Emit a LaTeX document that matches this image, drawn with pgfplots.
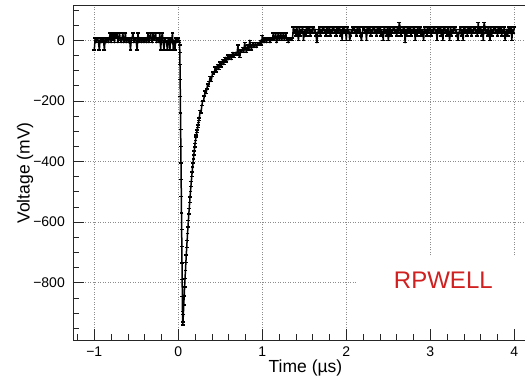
\documentclass[border=0pt]{standalone}
\usepackage{fontspec}
\setmainfont{Liberation Sans}
\usepackage{pgfplots}
\pgfplotsset{compat=1.18}
\definecolor{rootred}{RGB}{208,32,32}
\begin{document}
\begin{tikzpicture}[font=\fontsize{14bp}{16bp}\selectfont]
\begin{axis}[
  scale only axis, width=452.5bp, height=335.2bp,
  xmin=-1.2536, xmax=4.133, ymin=-990.8, ymax=115.5,
  tick pos=left, tick align=inside,
  xtick={-1,0,1,2,3,4}, xticklabels={−1,0,1,2,3,4},
  ytick={-800,-600,-400,-200,0}, yticklabels={−800,−600,−400,−200,0},
  minor xtick={-1.2,-0.8,-0.6,-0.4,-0.2,0.2,0.4,0.6,0.8,1.2,1.4,1.6,1.8,2.2,2.4,2.6,2.8,3.2,3.4,3.6,3.8},
  minor ytick={-950,-900,-850,-750,-700,-650,-550,-500,-450,-350,-300,-250,-150,-100,-50,50,100},
  major tick length=11bp, minor tick length=6bp,
  grid=major,
  major grid style={black!45, line width=0.5bp, dash pattern=on 1bp off 1.5bp},
  axis line style={black!85, line width=0.8bp},
  every tick/.style={black!85, line width=0.6bp},
  xticklabel style={inner sep=0pt, anchor=north, yshift=-6.5bp},
  yticklabel style={inner sep=0pt, anchor=east, xshift=-8bp},
  xlabel={Time (µs)}, ylabel={Voltage (mV)},
  xlabel style={at={(axis description cs:0.5138,0)}, anchor=base, yshift=-32.5bp, inner sep=0pt, font=\fontsize{17.5bp}{20bp}\selectfont},
  ylabel style={at={(axis description cs:-0.1061,0.5)}, anchor=center, inner sep=0pt, font=\fontsize{17.5bp}{20bp}\selectfont},
]
\addplot[black, line width=1.5bp, line join=round, mark=-, mark size=1.9bp, mark options={line width=1.5bp, solid}] coordinates {
(-1.00,-32)(-0.99,8)(-0.98,-8)(-0.97,0)(-0.96,8)(-0.95,-8)(-0.94,-32)(-0.93,8)(-0.92,0)(-0.91,-8)(-0.90,8)(-0.89,0)
(-0.88,-32)(-0.87,8)(-0.86,-8)(-0.85,0)(-0.84,8)(-0.83,-8)(-0.82,8)(-0.81,24)(-0.80,-8)(-0.79,24)(-0.78,0)(-0.77,24)
(-0.76,-8)(-0.75,24)(-0.74,8)(-0.73,24)(-0.72,-8)(-0.71,8)(-0.70,24)(-0.69,0)(-0.68,-8)(-0.67,8)(-0.66,24)(-0.65,-8)
(-0.64,0)(-0.63,24)(-0.62,-8)(-0.61,8)(-0.60,0)(-0.59,-8)(-0.58,8)(-0.57,-32)(-0.56,0)(-0.55,8)(-0.54,24)(-0.53,-8)
(-0.52,0)(-0.51,8)(-0.50,-8)(-0.49,-32)(-0.48,24)(-0.47,-8)(-0.46,0)(-0.45,8)(-0.44,-8)(-0.43,0)(-0.42,8)(-0.41,-8)
(-0.40,0)(-0.39,8)(-0.38,-8)(-0.37,0)(-0.36,24)(-0.35,-8)(-0.34,8)(-0.33,24)(-0.32,0)(-0.31,-8)(-0.30,24)(-0.29,0)
(-0.28,8)(-0.27,24)(-0.26,-8)(-0.25,0)(-0.24,8)(-0.23,-8)(-0.22,24)(-0.21,-32)(-0.20,8)(-0.19,24)(-0.18,-8)(-0.17,-32)
(-0.16,8)(-0.15,0)(-0.14,-8)(-0.13,-32)(-0.12,8)(-0.11,0)(-0.10,-32)(-0.09,8)(-0.08,-8)(-0.07,24)(-0.06,-32)(-0.05,0)
(-0.04,-32)(-0.03,8)(-0.02,-8)(-0.01,0)(0.00,8)(0.01,-8)
(0.012,-8)(0.014,0)(0.016,-16)(0.018,-40)(0.020,-80)(0.022,-130)(0.024,-185)(0.026,-240)(0.028,-295)(0.030,-350)
(0.032,-405)(0.034,-460)(0.036,-515)(0.038,-570)(0.040,-625)(0.042,-680)(0.044,-735)(0.046,-790)(0.048,-845)(0.050,-895)
(0.052,-930)(0.054,-940)(0.056,-932)(0.060,-905)(0.065,-874)(0.070,-844)(0.075,-815)(0.080,-787)(0.085,-760)(0.090,-734)
(0.095,-708)(0.100,-684)(0.105,-661)(0.110,-638)(0.115,-616)(0.120,-595)(0.125,-574)(0.130,-555)(0.135,-536)(0.140,-517)
(0.145,-499)(0.150,-482)(0.155,-466)(0.160,-450)(0.165,-434)(0.170,-419)(0.175,-405)(0.180,-391)(0.185,-378)(0.190,-365)
(0.195,-352)(0.200,-340)(0.205,-330)(0.210,-320)(0.215,-312)(0.220,-304)(0.225,-296)(0.230,-288)(0.235,-280)(0.240,-272)(0.245,-264)
(0.25,-256)(0.26,-232)(0.27,-240)(0.28,-216)(0.29,-200)(0.30,-200)(0.31,-184)(0.32,-168)(0.33,-176)(0.34,-160)
(0.35,-144)(0.36,-152)(0.37,-136)(0.38,-120)(0.39,-136)(0.40,-120)(0.41,-104)(0.42,-112)(0.43,-104)(0.44,-88)
(0.45,-104)(0.46,-88)(0.47,-80)(0.48,-96)(0.49,-80)(0.50,-72)(0.51,-88)(0.52,-72)(0.53,-64)(0.54,-80)
(0.55,-64)(0.56,-56)(0.57,-72)(0.58,-64)(0.59,-48)(0.60,-64)(0.61,-56)(0.62,-48)(0.63,-64)(0.64,-48)
(0.65,-40)(0.66,-56)(0.67,-48)(0.68,-40)(0.69,-48)(0.70,-40)(0.71,-16)(0.72,-48)(0.73,-56)(0.74,-32)
(0.75,-40)(0.76,-32)(0.77,-24)(0.78,-40)(0.79,-8)(0.80,-24)(0.81,-40)(0.82,-24)(0.83,-16)(0.84,-32)
(0.85,0)(0.86,-16)(0.87,-32)(0.88,-16)(0.89,-8)(0.90,-24)(0.91,-16)(0.92,-8)(0.93,-24)(0.94,-16)
(0.95,-8)(0.96,-16)(0.97,-8)(0.98,0)(0.99,-16)(1.00,16)
(1.01,0)(1.02,-8)(1.03,8)(1.04,0)(1.05,-8)(1.06,8)(1.07,0)(1.08,8)(1.09,-8)(1.10,0)(1.11,8)(1.12,0)
(1.13,24)(1.14,0)(1.15,8)(1.16,24)(1.17,-8)(1.18,8)(1.19,24)(1.20,0)(1.21,8)(1.22,24)(1.23,0)(1.24,8)
(1.25,24)(1.26,0)(1.27,8)(1.28,24)(1.29,0)(1.30,8)(1.31,-8)(1.32,8)(1.33,0)(1.34,8)(1.35,0)(1.36,8)
(1.37,44)(1.38,24)(1.39,36)(1.40,14)(1.41,44)(1.42,24)(1.43,0)(1.44,44)(1.45,14)(1.46,36)(1.47,24)(1.48,44)
(1.49,0)(1.50,24)(1.51,36)(1.52,14)(1.53,44)(1.54,24)(1.55,36)(1.56,44)(1.57,14)(1.58,36)(1.59,24)(1.60,44)
(1.61,44)(1.62,24)(1.63,36)(1.64,14)(1.65,-8)(1.66,24)(1.67,36)(1.68,44)(1.69,14)(1.70,36)(1.71,24)(1.72,44)
(1.73,44)(1.74,24)(1.75,36)(1.76,14)(1.77,44)(1.78,24)(1.79,36)(1.80,44)(1.81,14)(1.82,36)(1.83,24)(1.84,44)
(1.85,44)(1.86,24)(1.87,36)(1.88,14)(1.89,44)(1.90,24)(1.91,36)(1.92,44)(1.93,14)(1.94,36)(1.95,0)(1.96,44)
(1.97,44)(1.98,24)(1.99,36)(2.00,0)(2.01,44)(2.02,24)(2.03,36)(2.04,0)(2.05,14)(2.06,36)(2.07,24)(2.08,44)
(2.09,44)(2.10,24)(2.11,36)(2.12,14)(2.13,44)(2.14,24)(2.15,36)(2.16,44)(2.17,14)(2.18,0)(2.19,24)(2.20,44)
(2.21,44)(2.22,24)(2.23,36)(2.24,0)(2.25,44)(2.26,24)(2.27,36)(2.28,44)(2.29,14)(2.30,36)(2.31,24)(2.32,44)
(2.33,44)(2.34,24)(2.35,36)(2.36,14)(2.37,44)(2.38,24)(2.39,36)(2.40,44)(2.41,14)(2.42,36)(2.43,24)(2.44,0)
(2.45,44)(2.46,24)(2.47,36)(2.48,14)(2.49,44)(2.50,0)(2.51,36)(2.52,44)(2.53,14)(2.54,36)(2.55,24)(2.56,44)
(2.57,44)(2.58,24)(2.59,36)(2.60,14)(2.61,44)(2.62,24)(2.63,58)(2.64,44)(2.65,14)(2.66,36)(2.67,24)(2.68,44)
(2.69,44)(2.70,-8)(2.71,36)(2.72,14)(2.73,44)(2.74,24)(2.75,36)(2.76,44)(2.77,14)(2.78,36)(2.79,24)(2.80,44)
(2.81,44)(2.82,0)(2.83,36)(2.84,14)(2.85,44)(2.86,24)(2.87,36)(2.88,44)(2.89,14)(2.90,36)(2.91,24)(2.92,0)
(2.93,44)(2.94,24)(2.95,36)(2.96,14)(2.97,44)(2.98,24)(2.99,36)(3.00,44)(3.01,14)(3.02,36)(3.03,24)(3.04,44)
(3.05,44)(3.06,24)(3.07,36)(3.08,0)(3.09,44)(3.10,24)(3.11,36)(3.12,44)(3.13,14)(3.14,36)(3.15,0)(3.16,44)
(3.17,44)(3.18,24)(3.19,36)(3.20,14)(3.21,44)(3.22,24)(3.23,0)(3.24,44)(3.25,14)(3.26,36)(3.27,24)(3.28,44)
(3.29,44)(3.30,24)(3.31,36)(3.32,14)(3.33,0)(3.34,24)(3.35,36)(3.36,44)(3.37,14)(3.38,36)(3.39,0)(3.40,44)
(3.41,44)(3.42,24)(3.43,36)(3.44,14)(3.45,44)(3.46,24)(3.47,36)(3.48,44)(3.49,14)(3.50,36)(3.51,24)(3.52,44)
(3.53,44)(3.54,24)(3.55,36)(3.56,14)(3.57,58)(3.58,24)(3.59,36)(3.60,44)(3.61,14)(3.62,36)(3.63,0)(3.64,58)
(3.65,44)(3.66,24)(3.67,36)(3.68,14)(3.69,44)(3.70,24)(3.71,0)(3.72,44)(3.73,14)(3.74,36)(3.75,24)(3.76,44)
(3.77,44)(3.78,24)(3.79,36)(3.80,14)(3.81,44)(3.82,24)(3.83,36)(3.84,44)(3.85,14)(3.86,36)(3.87,24)(3.88,44)
(3.89,0)(3.90,24)(3.91,36)(3.92,14)(3.93,44)(3.94,24)(3.95,36)(3.96,44)(3.97,0)(3.98,36)(3.99,24)(4.00,44)
};
\fill[white] (axis cs:2.127,-950) rectangle (axis cs:4.133,-715);
\node[anchor=base, text=rootred, inner sep=0pt, font=\fontsize{24bp}{28bp}\selectfont] at (axis cs:3.155,-818.5) {RPWELL};
\end{axis}
\pgfresetboundingbox
\path[use as bounding box] ([shift={(-73bp,-37.5bp)}]current axis.south west) rectangle ([shift={(-0.5bp,5.3bp)}]current axis.north east);
\end{tikzpicture}
\end{document}
